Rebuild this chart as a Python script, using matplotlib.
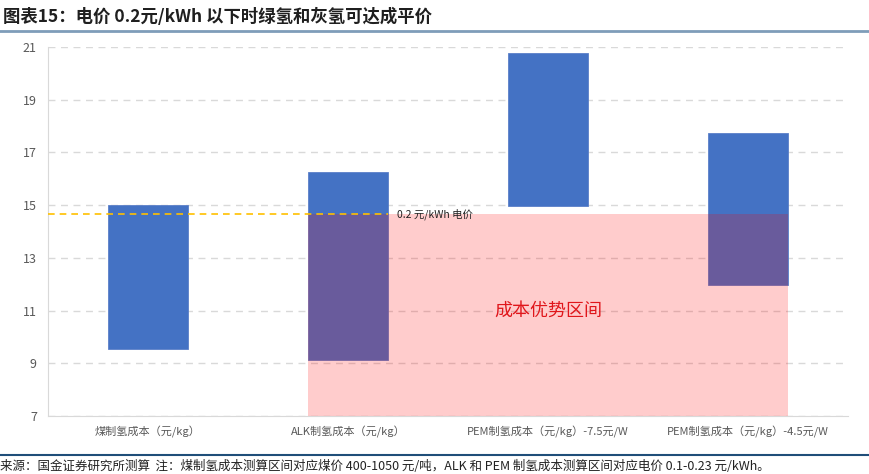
import matplotlib.pyplot as plt
from matplotlib.lines import Line2D

plt.rcParams['font.family'] = ['Noto Sans CJK SC', 'DejaVu Sans']

# %%
categories = ['煤制氢成本（元/kg）', 'ALK制氢成本（元/kg）',
              'PEM制氢成本（元/kg）-7.5元/W', 'PEM制氢成本（元/kg）-4.5元/W']
cost_low = [9.55, 9.13, 14.97, 11.97]
cost_high = [15.02, 16.27, 20.77, 17.75]
parity_line = 14.67
yticks = [7, 9, 11, 13, 15, 17, 19, 21]

# %%
fig = plt.figure(figsize=(8.69, 4.74), dpi=100)
ax = fig.add_axes([0.0552, 0.1224, 0.9206, 0.7784])

x = range(len(categories))
heights = [h - l for h, l in zip(cost_high, cost_low)]
ax.bar(x, heights, bottom=cost_low, width=0.4, color='#4472C4',
       edgecolor='#5B7FC8', linewidth=0.6, zorder=2)

# cost advantage region (translucent red over the bars)
ax.fill_between([0.8, 3.2], 7, parity_line, color='red', alpha=0.2,
                linewidth=0, zorder=3)
ax.plot([-0.5, 1.2], [parity_line, parity_line], color='#FFC000',
        linestyle=(0, (4, 3)), linewidth=1.2, zorder=4)
ax.text(1.245, parity_line, '0.2 元/kWh 电价', fontsize=7.5, va='center',
        ha='left', color='#222222', zorder=5)
ax.text(2.0, 11.0, '成本优势区间', fontsize=13, color='#E0161B',
        ha='center', va='center', zorder=5)

ax.set_xlim(-0.5, 3.5)
ax.set_ylim(7, 21)
ax.set_yticks(yticks)
ax.set_xticks(list(x))
ax.set_xticklabels(categories, fontsize=8, color='#595959')
ax.tick_params(axis='y', labelsize=9, labelcolor='#595959', length=0, pad=8)
ax.tick_params(axis='x', length=0, pad=7)
ax.grid(axis='y', color='#D9D9D9', linestyle=(0, (5, 4)), linewidth=1, zorder=0)
ax.set_axisbelow(True)
for side in ['top', 'right']:
    ax.spines[side].set_visible(False)
for side in ['left', 'bottom']:
    ax.spines[side].set_color('#D9D9D9')

# %% header / footer
fig.text(0.004, 0.965, '图表15：电价 0.2元/kWh 以下时绿氢和灰氢可达成平价',
         fontsize=12.5, fontweight='bold', fontstyle='italic', color='#1F1F1F',
         ha='left', va='center')
fig.add_artist(Line2D([0, 1], [0.935, 0.935], color='#7F9DB9', linewidth=2))
fig.add_artist(Line2D([0, 1], [0.040, 0.040], color='#1F4E79', linewidth=1.5))
fig.text(0.0, 0.016, '来源：国金证券研究所测算  注：煤制氢成本测算区间对应煤价 400-1050 元/吨，'
         'ALK 和 PEM 制氢成本测算区间对应电价 0.1-0.23 元/kWh。',
         fontsize=9, color='#222222', ha='left', va='center')

fig.savefig('out.png', dpi=100)
